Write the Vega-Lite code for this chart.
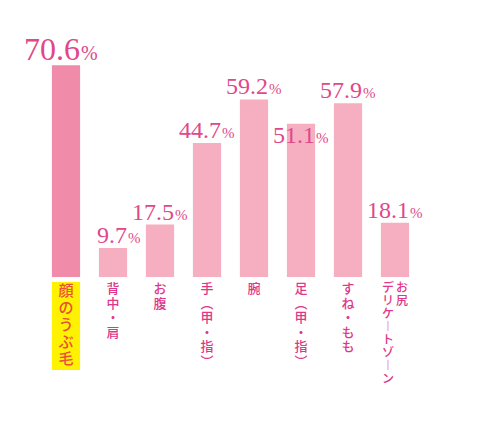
{
  "$schema": "https://vega.github.io/schema/vega-lite/v6.json",
  "width": 376,
  "height": 225,
  "autosize": "none",
  "padding": {"left": 42.5, "top": 52, "right": 63.5, "bottom": 164},
  "background": "white",
  "config": {"view": {"stroke": null}, "text": {"lineBreak": "\n"}},
  "data": {
    "values": [
      {"part": "顔のうぶ毛", "pct": 70.6, "lab1": "顔\nの\nう\nぶ\n毛", "lab2": ""},
      {"part": "背中・肩", "pct": 9.7, "lab1": "背\n中\n・\n肩", "lab2": ""},
      {"part": "お腹", "pct": 17.5, "lab1": "お\n腹", "lab2": ""},
      {"part": "手（甲・指）", "pct": 44.7, "lab1": "手\n︵\n甲\n・\n指\n︶", "lab2": ""},
      {"part": "腕", "pct": 59.2, "lab1": "腕", "lab2": ""},
      {"part": "足（甲・指）", "pct": 51.1, "lab1": "足\n︵\n甲\n・\n指\n︶", "lab2": ""},
      {"part": "すね・もも", "pct": 57.9, "lab1": "す\nね\n・\nも\nも", "lab2": ""},
      {"part": "お尻デリケートゾーン", "pct": 18.1, "lab1": "お\n尻", "lab2": "デ\nリ\nケ\n︱\nト\nゾ\n︱\nン"}
    ]
  },
  "encoding": {
    "x": {
      "field": "part",
      "type": "nominal",
      "sort": null,
      "axis": null,
      "scale": {"paddingInner": 0.4, "paddingOuter": 0.2}
    }
  },
  "layer": [
    {
      "mark": {"type": "bar"},
      "encoding": {
        "y": {"field": "pct", "type": "quantitative", "axis": null, "scale": {"domain": [0, 75], "nice": false}},
        "color": {
          "condition": {"test": "datum.part === '顔のうぶ毛'", "value": "#F08BAA"},
          "value": "#F5AFC1"
        }
      }
    },
    {
      "transform": [{"filter": "datum.part === '顔のうぶ毛'"}],
      "mark": {"type": "bar", "color": "#FFF200"},
      "encoding": {"y": {"datum": -1.7}, "y2": {"datum": -31}}
    },
    {
      "transform": [{"filter": "datum.part !== '足（甲・指）'"}],
      "mark": {"type": "text", "align": "right", "baseline": "alphabetic", "dx": 14, "dy": -5, "font": "Liberation Serif", "color": "#E0488A"},
      "encoding": {
        "y": {"field": "pct", "type": "quantitative"},
        "text": {"field": "pct", "type": "quantitative", "format": ".1f"},
        "size": {"condition": {"test": "datum.part === '顔のうぶ毛'", "value": 32}, "value": 24}
      }
    },
    {
      "transform": [{"filter": "datum.part !== '足（甲・指）'"}],
      "mark": {"type": "text", "align": "left", "baseline": "alphabetic", "dx": 15, "dy": -5, "font": "Liberation Serif", "color": "#E0488A", "text": "%"},
      "encoding": {
        "y": {"field": "pct", "type": "quantitative"},
        "size": {"condition": {"test": "datum.part === '顔のうぶ毛'", "value": 20}, "value": 15}
      }
    },
    {
      "transform": [{"filter": "datum.part === '足（甲・指）'"}],
      "mark": {"type": "text", "align": "right", "baseline": "alphabetic", "dx": 14, "dy": 19, "font": "Liberation Serif", "color": "#E0488A", "fontSize": 24},
      "encoding": {
        "y": {"field": "pct", "type": "quantitative"},
        "text": {"field": "pct", "type": "quantitative", "format": ".1f"}
      }
    },
    {
      "transform": [{"filter": "datum.part === '足（甲・指）'"}],
      "mark": {"type": "text", "align": "left", "baseline": "alphabetic", "dx": 15, "dy": 19, "font": "Liberation Serif", "color": "#E0488A", "fontSize": 15, "text": "%"},
      "encoding": {"y": {"field": "pct", "type": "quantitative"}}
    },
    {
      "transform": [{"filter": "datum.part === '顔のうぶ毛'"}],
      "mark": {"type": "text", "align": "center", "baseline": "top", "dy": 7, "font": "Noto Sans CJK JP", "fontSize": 15, "fontWeight": 500, "lineHeight": 17, "color": "#E8503A"},
      "encoding": {"y": {"datum": 0}, "text": {"field": "lab1"}}
    },
    {
      "transform": [{"filter": "datum.part !== '顔のうぶ毛' && datum.lab2 === ''"}],
      "mark": {"type": "text", "align": "center", "baseline": "top", "dy": 6, "font": "Noto Sans CJK JP", "fontSize": 13, "fontWeight": 500, "lineHeight": 14.5, "color": "#E0378A"},
      "encoding": {"y": {"datum": 0}, "text": {"field": "lab1"}}
    },
    {
      "transform": [{"filter": "datum.lab2 !== ''"}],
      "mark": {"type": "text", "align": "center", "baseline": "top", "dx": 7, "dy": 6, "font": "Noto Sans CJK JP", "fontSize": 12, "fontWeight": 500, "lineHeight": 13, "color": "#E0378A"},
      "encoding": {"y": {"datum": 0}, "text": {"field": "lab1"}}
    },
    {
      "transform": [{"filter": "datum.lab2 !== ''"}],
      "mark": {"type": "text", "align": "center", "baseline": "top", "dx": -7, "dy": 6, "font": "Noto Sans CJK JP", "fontSize": 12, "fontWeight": 500, "lineHeight": 13, "color": "#E0378A"},
      "encoding": {"y": {"datum": 0}, "text": {"field": "lab2"}}
    }
  ]
}
